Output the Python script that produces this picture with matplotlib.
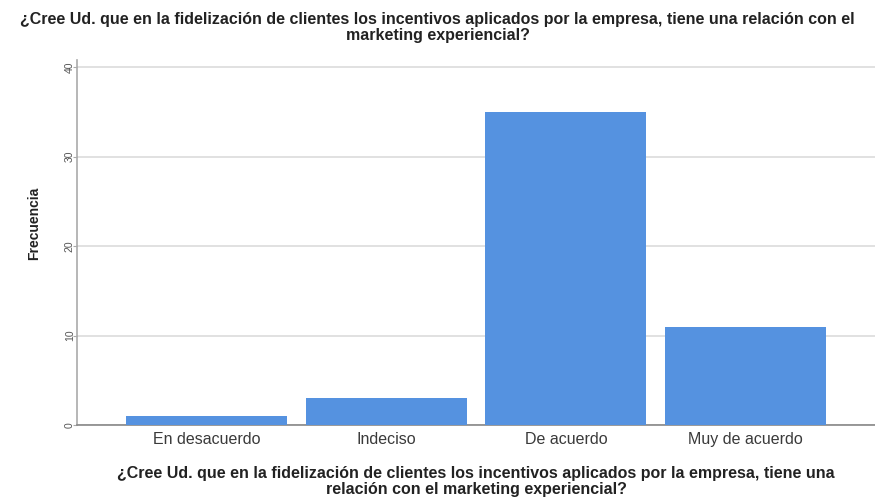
import matplotlib
matplotlib.use("Agg")
import matplotlib.pyplot as plt

categories = ["En desacuerdo", "Indeciso", "De acuerdo", "Muy de acuerdo"]
frecuencia = [1, 3, 35, 11]
y_ticks = [0, 10, 20, 30, 40]

question = ("¿Cree Ud. que en la fidelización de clientes los incentivos aplicados por la empresa, "
            "tiene una relación con el\nmarketing experiencial?")
question_x = ("¿Cree Ud. que en la fidelización de clientes los incentivos aplicados por la empresa, "
              "tiene una\nrelación con el marketing experiencial?")

plt.rcParams["font.family"] = ["Liberation Sans", "DejaVu Sans"]

fig = plt.figure(figsize=(8.75, 5.03), dpi=100)
ax = fig.add_axes([0.088, 0.155, 0.912, 0.726])

x = list(range(len(categories)))
ax.bar(x, frecuencia, width=0.895, color="#5592E0", zorder=3)

ax.set_xlim(-0.72, 3.72)
ax.set_ylim(0, 40.8)
ax.set_yticks(y_ticks)
ax.set_yticklabels([str(v) for v in y_ticks], rotation=90, va="center",
                   fontsize=7.5, color="#555555")
ax.set_xticks(x)
ax.set_xticklabels(categories, fontsize=11.5, color="#3a3a3a")
ax.tick_params(axis="x", length=0, pad=5)
ax.tick_params(axis="y", length=3, color="#aaaaaa", pad=-1.5)

ax.grid(axis="y", color="#dcdcdc", linewidth=1.2, zorder=0)
for side in ("top", "right"):
    ax.spines[side].set_visible(False)
ax.spines["left"].set_color("#aaaaaa")
ax.spines["bottom"].set_color("#888888")
ax.spines["left"].set_linewidth(1.2)
ax.spines["bottom"].set_linewidth(1.2)

ax.set_ylabel("Frecuencia", fontsize=10, fontweight="bold", color="#222222")
ax.yaxis.set_label_coords(-0.045, 0.551)
ax.set_xlabel(question_x, fontsize=11.5, fontweight="bold", color="#222222",
              linespacing=1.05)
ax.xaxis.set_label_coords(0.5, -0.113)

fig.text(0.5, 1 - 12 / 503, question, ha="center", va="top", fontsize=11.5,
         fontweight="bold", color="#222222", linespacing=1.05)

fig.savefig("out.png", dpi=100)
